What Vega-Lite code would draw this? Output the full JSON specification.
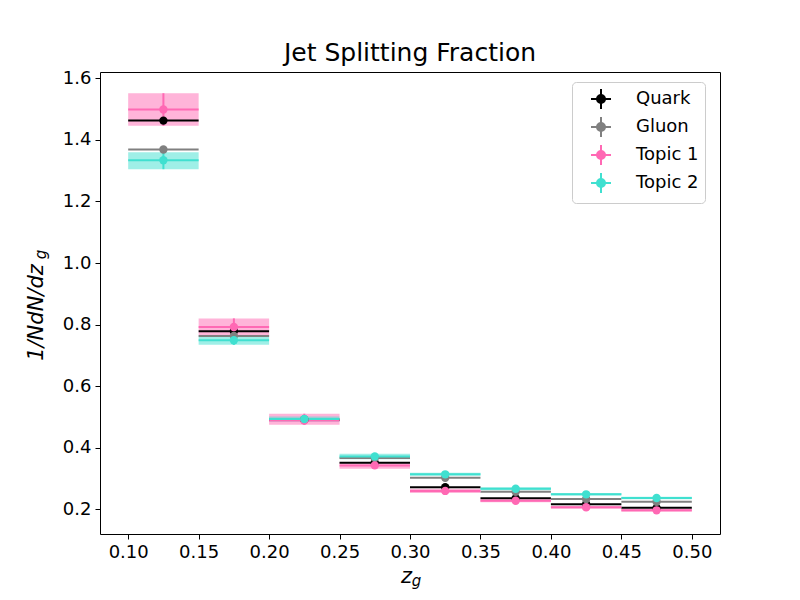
{
  "$schema": "https://vega.github.io/schema/vega-lite/v6.json",
  "description": "Jet splitting fraction for quark, gluon and two topics",
  "autosize": {"type": "none"},
  "width": 620,
  "height": 462,
  "padding": {"left": 100, "top": 72, "right": 80, "bottom": 66},
  "title": {
    "text": "Jet Splitting Fraction",
    "fontSize": 25,
    "fontWeight": "normal",
    "font": "DejaVu Sans",
    "color": "black",
    "anchor": "middle",
    "baseline": "alphabetic",
    "offset": -17
  },
  "data": {
    "values": [
      {"series": "Quark", "z": 0.125, "zlo": 0.10, "zhi": 0.15, "v": 1.463, "lo": 1.459, "hi": 1.467},
      {"series": "Quark", "z": 0.175, "zlo": 0.15, "zhi": 0.20, "v": 0.778, "lo": 0.775, "hi": 0.781},
      {"series": "Quark", "z": 0.225, "zlo": 0.20, "zhi": 0.25, "v": 0.490, "lo": 0.488, "hi": 0.492},
      {"series": "Quark", "z": 0.275, "zlo": 0.25, "zhi": 0.30, "v": 0.351, "lo": 0.349, "hi": 0.353},
      {"series": "Quark", "z": 0.325, "zlo": 0.30, "zhi": 0.35, "v": 0.271, "lo": 0.269, "hi": 0.273},
      {"series": "Quark", "z": 0.375, "zlo": 0.35, "zhi": 0.40, "v": 0.235, "lo": 0.233, "hi": 0.237},
      {"series": "Quark", "z": 0.425, "zlo": 0.40, "zhi": 0.45, "v": 0.216, "lo": 0.214, "hi": 0.218},
      {"series": "Quark", "z": 0.475, "zlo": 0.45, "zhi": 0.50, "v": 0.204, "lo": 0.202, "hi": 0.206},
      {"series": "Gluon", "z": 0.125, "zlo": 0.10, "zhi": 0.15, "v": 1.369, "lo": 1.365, "hi": 1.373},
      {"series": "Gluon", "z": 0.175, "zlo": 0.15, "zhi": 0.20, "v": 0.763, "lo": 0.760, "hi": 0.766},
      {"series": "Gluon", "z": 0.225, "zlo": 0.20, "zhi": 0.25, "v": 0.492, "lo": 0.490, "hi": 0.494},
      {"series": "Gluon", "z": 0.275, "zlo": 0.25, "zhi": 0.30, "v": 0.366, "lo": 0.364, "hi": 0.368},
      {"series": "Gluon", "z": 0.325, "zlo": 0.30, "zhi": 0.35, "v": 0.302, "lo": 0.300, "hi": 0.304},
      {"series": "Gluon", "z": 0.375, "zlo": 0.35, "zhi": 0.40, "v": 0.256, "lo": 0.254, "hi": 0.258},
      {"series": "Gluon", "z": 0.425, "zlo": 0.40, "zhi": 0.45, "v": 0.233, "lo": 0.231, "hi": 0.235},
      {"series": "Gluon", "z": 0.475, "zlo": 0.45, "zhi": 0.50, "v": 0.224, "lo": 0.222, "hi": 0.226},
      {"series": "Topic 1", "z": 0.125, "zlo": 0.10, "zhi": 0.15, "v": 1.499, "lo": 1.446, "hi": 1.552},
      {"series": "Topic 1", "z": 0.175, "zlo": 0.15, "zhi": 0.20, "v": 0.792, "lo": 0.764, "hi": 0.820},
      {"series": "Topic 1", "z": 0.225, "zlo": 0.20, "zhi": 0.25, "v": 0.488, "lo": 0.474, "hi": 0.510},
      {"series": "Topic 1", "z": 0.275, "zlo": 0.25, "zhi": 0.30, "v": 0.342, "lo": 0.331, "hi": 0.353},
      {"series": "Topic 1", "z": 0.325, "zlo": 0.30, "zhi": 0.35, "v": 0.259, "lo": 0.252, "hi": 0.266},
      {"series": "Topic 1", "z": 0.375, "zlo": 0.35, "zhi": 0.40, "v": 0.227, "lo": 0.222, "hi": 0.232},
      {"series": "Topic 1", "z": 0.425, "zlo": 0.40, "zhi": 0.45, "v": 0.206, "lo": 0.201, "hi": 0.211},
      {"series": "Topic 1", "z": 0.475, "zlo": 0.45, "zhi": 0.50, "v": 0.196, "lo": 0.191, "hi": 0.201},
      {"series": "Topic 2", "z": 0.125, "zlo": 0.10, "zhi": 0.15, "v": 1.334, "lo": 1.305, "hi": 1.360},
      {"series": "Topic 2", "z": 0.175, "zlo": 0.15, "zhi": 0.20, "v": 0.749, "lo": 0.734, "hi": 0.764},
      {"series": "Topic 2", "z": 0.225, "zlo": 0.20, "zhi": 0.25, "v": 0.493, "lo": 0.485, "hi": 0.501},
      {"series": "Topic 2", "z": 0.275, "zlo": 0.25, "zhi": 0.30, "v": 0.371, "lo": 0.362, "hi": 0.380},
      {"series": "Topic 2", "z": 0.325, "zlo": 0.30, "zhi": 0.35, "v": 0.313, "lo": 0.308, "hi": 0.318},
      {"series": "Topic 2", "z": 0.375, "zlo": 0.35, "zhi": 0.40, "v": 0.266, "lo": 0.261, "hi": 0.271},
      {"series": "Topic 2", "z": 0.425, "zlo": 0.40, "zhi": 0.45, "v": 0.248, "lo": 0.244, "hi": 0.252},
      {"series": "Topic 2", "z": 0.475, "zlo": 0.45, "zhi": 0.50, "v": 0.236, "lo": 0.232, "hi": 0.240}
    ]
  },
  "resolve": {"axis": {"x": "independent", "y": "independent"}},
  "layer": [
    {
      "transform": [{"filter": "datum.series === 'Topic 1' || datum.series === 'Topic 2'"}],
      "mark": {"type": "rect", "opacity": 0.5},
      "encoding": {
        "x": {
          "field": "zlo", "type": "quantitative",
          "scale": {"domain": [0.08, 0.52], "nice": false, "zero": false},
          "axis": {
            "orient": "bottom",
            "title": "z", "titleFontStyle": "italic", "titleFontSize": 21,
            "titleAlign": "center", "titleBaseline": "alphabetic", "titleX": 306, "titleY": 48,
            "values": [0.10, 0.15, 0.20, 0.25, 0.30, 0.35, 0.40, 0.45, 0.50],
            "format": ".2f"
          }
        },
        "x2": {"field": "zhi"},
        "y": {
          "field": "lo", "type": "quantitative",
          "scale": {"domain": [0.119, 1.621], "nice": false, "zero": false},
          "axis": {
            "orient": "left",
            "title": "1/NdN/dz", "titleFontStyle": "italic", "titleFontSize": 21,
            "titleAngle": -90, "titleAlign": "center", "titleBaseline": "alphabetic",
            "titleX": -58, "titleY": 240,
            "values": [0.2, 0.4, 0.6, 0.8, 1.0, 1.2, 1.4, 1.6],
            "format": ".1f"
          }
        },
        "y2": {"field": "hi"},
        "fill": {
          "field": "series", "type": "nominal", "legend": null,
          "scale": {"domain": ["Topic 1", "Topic 2"], "range": ["#ff69b4", "#40e0d0"]}
        }
      }
    },
    {
      "mark": {"type": "rule", "strokeWidth": 2},
      "encoding": {
        "x": {
          "field": "zlo", "type": "quantitative",
          "axis": {
            "orient": "bottom",
            "title": "g", "titleFontStyle": "italic", "titleFontSize": 15,
            "titleAlign": "center", "titleBaseline": "alphabetic", "titleX": 316, "titleY": 51,
            "labels": false, "ticks": false, "domain": false, "grid": false
          }
        },
        "x2": {"field": "zhi"},
        "y": {
          "field": "v", "type": "quantitative",
          "axis": {
            "orient": "left",
            "title": "g", "titleFontStyle": "italic", "titleFontSize": 15,
            "titleAngle": -90, "titleAlign": "center", "titleBaseline": "alphabetic",
            "titleX": -55, "titleY": 182,
            "labels": false, "ticks": false, "domain": false, "grid": false
          }
        },
        "color": {
          "field": "series", "type": "nominal",
          "scale": {"domain": ["Quark", "Gluon", "Topic 1", "Topic 2"], "range": ["#000000", "#808080", "#ff69b4", "#40e0d0"]}
        }
      }
    },
    {
      "mark": {"type": "rule", "strokeWidth": 2},
      "encoding": {
        "x": {"field": "z", "type": "quantitative", "axis": null},
        "y": {"field": "lo", "type": "quantitative", "axis": null},
        "y2": {"field": "hi"},
        "color": {"field": "series", "type": "nominal"}
      }
    },
    {
      "mark": {"type": "point", "filled": true, "opacity": 1, "size": 70},
      "encoding": {
        "x": {"field": "z", "type": "quantitative", "axis": null},
        "y": {"field": "v", "type": "quantitative", "axis": null},
        "color": {
          "field": "series", "type": "nominal",
          "legend": {
            "title": null,
            "orient": "none",
            "legendX": 472,
            "legendY": 10,
            "symbolType": "M-1,0H1M0,-1V1M-0.4,0A0.4,0.4,0,1,1,0.4,0A0.4,0.4,0,1,1,-0.4,0Z",
            "symbolSize": 400,
            "symbolStrokeWidth": 2,
            "symbolOffset": 12,
            "labelFontSize": 18,
            "labelFont": "DejaVu Sans",
            "labelColor": "black",
            "labelOffset": 24,
            "rowPadding": 0,
            "padding": 6,
            "strokeColor": "#cccccc",
            "fillColor": "white",
            "cornerRadius": 4,
            "encode": {
              "symbols": {
                "update": {
                  "fill": {"scale": "color", "field": "value"},
                  "stroke": {"scale": "color", "field": "value"},
                  "opacity": {"value": 1}
                }
              }
            }
          }
        }
      }
    }
  ],
  "config": {
    "font": "DejaVu Sans",
    "view": {"stroke": "black", "strokeWidth": 1},
    "axis": {
      "grid": false,
      "domain": false,
      "tickColor": "black",
      "tickSize": 5,
      "tickWidth": 1,
      "labelFont": "DejaVu Sans",
      "labelFontSize": 18,
      "labelColor": "black",
      "labelPadding": 4,
      "titleFont": "DejaVu Sans",
      "titleFontWeight": "normal",
      "titleColor": "black",
      "labelFlush": false,
      "labelOverlap": false
    }
  }
}
